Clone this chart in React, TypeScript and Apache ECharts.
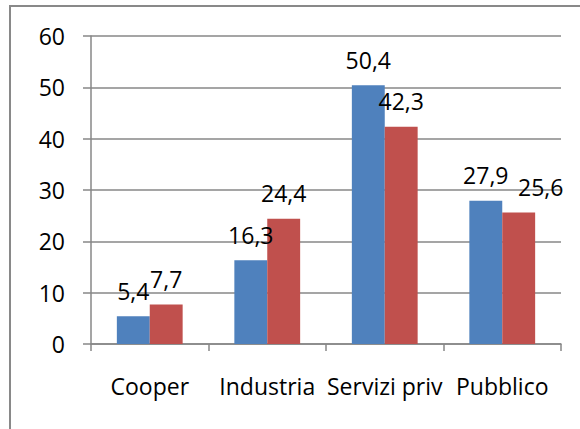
import React, { useEffect, useRef } from "react";
import * as echarts from "echarts";

const categories = ["Cooper", "Industria", "Servizi priv", "Pubblico"];
const seriesA = [5.4, 16.3, 50.4, 27.9];
const seriesB = [7.7, 24.4, 42.3, 25.6];
const yTicks = { min: 0, max: 60, interval: 10 };

const fmt = (v: number) => v.toFixed(1).replace(".", ",");

export default function App() {
  const ref = useRef<HTMLDivElement>(null);
  useEffect(() => {
    if (!ref.current) return;
    const chart = echarts.init(ref.current, undefined, { renderer: "svg" });
    const font = "'Open Sans', sans-serif";
    const label = {
      show: true,
      position: "top" as const,
      distance: 14,
      color: "#000",
      fontSize: 23,
      fontFamily: font,
      formatter: (p: any) => fmt(p.value),
    };
    // Pubblico red label is nudged right in the reference to avoid overlap
    const seriesBData = seriesB.map((v, i) =>
      i === 3 ? { value: v, label: { offset: [22, 0] } } : v
    );
    chart.setOption({
      animation: false,
      backgroundColor: "#fff",
      graphic: [
        {
          type: "rect",
          shape: { x: 10, y: 6, width: 600, height: 450 },
          style: { fill: "none", stroke: "#898989", lineWidth: 2 },
          silent: true,
        },
      ],
      grid: { left: 91, top: 36, right: 19, bottom: 85 },
      xAxis: {
        type: "category",
        data: categories,
        axisLine: { show: true, lineStyle: { color: "#878787", width: 1.5 } },
        axisTick: { show: true, length: 7, lineStyle: { color: "#878787", width: 1.5 } },
        axisLabel: { color: "#000", fontSize: 23, fontFamily: font, margin: 30, interval: 0 },
      },
      yAxis: {
        type: "value",
        min: yTicks.min,
        max: yTicks.max,
        interval: yTicks.interval,
        axisLine: { show: true, lineStyle: { color: "#878787", width: 1.5 } },
        axisTick: { show: true, length: 8, lineStyle: { color: "#878787", width: 1.5 } },
        splitLine: { show: true, lineStyle: { color: "#878787", width: 1.5 } },
        axisLabel: { color: "#000", fontSize: 23, fontFamily: font, margin: 26 },
      },
      series: [
        {
          type: "bar",
          data: seriesA,
          itemStyle: { color: "#4F81BD" },
          barGap: "0%",
          barCategoryGap: "44%",
          label,
        },
        {
          type: "bar",
          data: seriesBData,
          itemStyle: { color: "#C0504D" },
          barGap: "0%",
          barCategoryGap: "44%",
          label,
        },
      ],
    });
    return () => chart.dispose();
  }, []);
  return (
    <div
      ref={ref}
      style={{ position: "absolute", left: 0, top: 0, width: 580, height: 429 }}
    />
  );
}
